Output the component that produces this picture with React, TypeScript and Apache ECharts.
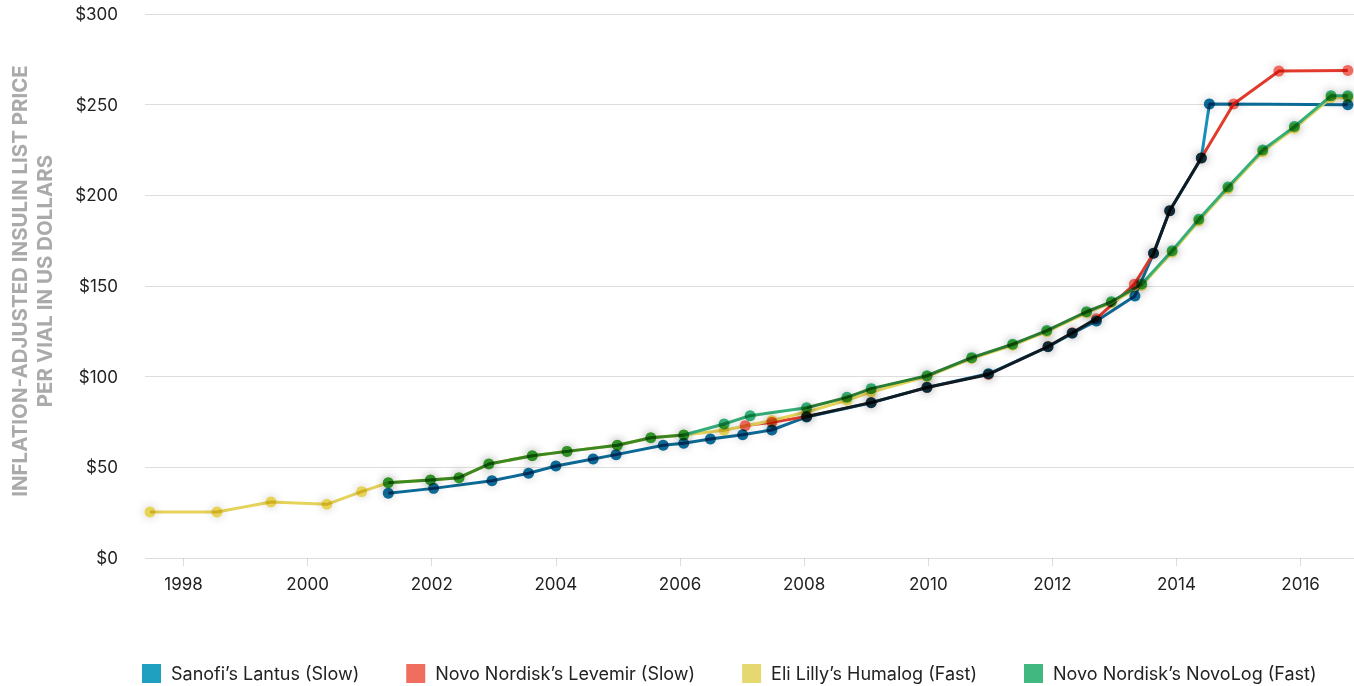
import React, { useEffect, useRef } from "react";
import * as echarts from "echarts";

const seriesNames = [
  "Sanofi’s Lantus (Slow)",
  "Novo Nordisk’s Levemir (Slow)",
  "Eli Lilly’s Humalog (Fast)",
  "Novo Nordisk’s NovoLog (Fast)",
];

const lantusYears = [2001.3, 2002.03, 2002.97, 2003.56, 2004.0, 2004.6, 2004.97, 2005.73, 2006.06, 2006.49, 2007.01, 2007.48, 2008.04, 2009.08, 2009.98, 2010.97, 2011.93, 2012.32, 2012.71, 2013.33, 2013.63, 2013.89, 2014.4, 2014.53, 2016.76];
const lantusPrices = [35.7, 38.4, 42.6, 46.7, 50.7, 54.6, 57.0, 62.2, 63.3, 65.6, 68.0, 70.6, 77.8, 85.6, 94.1, 101.6, 116.5, 123.9, 130.7, 144.5, 168.0, 191.5, 220.6, 250.4, 250.0];

const levemirYears = [2007.05, 2007.48, 2008.04, 2009.08, 2009.98, 2010.97, 2011.93, 2012.32, 2012.71, 2013.32, 2013.63, 2013.89, 2014.4, 2014.92, 2015.65, 2016.76];
const levemirPrices = [73.0, 74.8, 78.0, 85.7, 94.0, 101.2, 116.6, 124.2, 132.0, 150.9, 168.0, 191.5, 220.6, 250.4, 268.5, 268.8];

const humalogYears = [1997.46, 1998.54, 1999.41, 2000.31, 2000.87, 2001.3, 2001.98, 2002.44, 2002.92, 2003.62, 2004.18, 2004.99, 2005.53, 2006.06, 2006.71, 2007.48, 2008.04, 2008.69, 2009.08, 2009.98, 2010.7, 2011.36, 2011.91, 2012.55, 2012.95, 2013.44, 2013.93, 2014.36, 2014.83, 2015.39, 2015.9, 2016.49, 2016.76];
const humalogPrices = [25.4, 25.4, 30.9, 29.6, 36.6, 41.5, 43.0, 44.3, 51.8, 56.4, 58.8, 62.2, 66.3, 67.8, 70.5, 75.8, 80.5, 87.0, 91.5, 100.0, 110.0, 117.3, 124.8, 135.2, 140.7, 150.3, 168.6, 185.8, 203.6, 224.0, 237.0, 253.8, 253.8];

const novologYears = [2001.3, 2001.98, 2002.44, 2002.92, 2003.62, 2004.18, 2004.99, 2005.53, 2006.06, 2006.71, 2007.13, 2008.04, 2008.69, 2009.08, 2009.98, 2010.7, 2011.36, 2011.91, 2012.55, 2012.95, 2013.44, 2013.93, 2014.36, 2014.83, 2015.39, 2015.9, 2016.49, 2016.76];
const novologPrices = [41.5, 43.0, 44.3, 51.8, 56.4, 58.8, 62.2, 66.3, 67.8, 73.9, 78.5, 82.9, 88.6, 93.4, 100.5, 110.5, 117.9, 125.4, 135.8, 141.3, 151.1, 169.5, 186.8, 204.6, 225.0, 237.9, 254.9, 254.9];

const yearTicks = [1998, 2000, 2002, 2004, 2006, 2008, 2010, 2012, 2014, 2016];

// Where two lines run together, the top line takes the mixed (darker) colour.
const levemirOverlap: [number, number, string][] = [
  [2008.04, 2012.71, "#111b22"],
  [2013.63, 2014.4, "#111b22"],
];
const novologOverlap: [number, number, string][] = [
  [2001.3, 2006.06, "#3b8a22"],
  [2008.04, 2013.44, "#2b7e34"],
];
const lantusOverlap: [number, number, string][] = [[2014.4, 2014.53, "#1a8fba"]];

const legendColors = ["#1fa0c0", "#f06e60", "#e6d870", "#40b880"];
const lineColors = ["#0b6a96", "#e23a2c", "#e6d35a", "#35b07a"];
const dotColors = ["#0b6a96", "#f06a5e", "#e6d35a", "#35b07a"];

const FONT = "Inter, Roboto, sans-serif";
const X_MIN = 1997.38;
const X_MAX = 2016.86;

const pair = (xs: number[], ys: number[]) => xs.map((x, i) => [x, ys[i]]);

const segmentedColor = (base: string, ranges: [number, number, string][]) => {
  if (!ranges.length) return base;
  const f = (y: number) => Math.min(1, Math.max(0, (y - X_MIN) / (X_MAX - X_MIN)));
  const stops: { offset: number; color: string }[] = [{ offset: 0, color: base }];
  ranges.forEach(([a, b, c]) => {
    stops.push({ offset: f(a), color: base });
    stops.push({ offset: f(a), color: c });
    stops.push({ offset: f(b), color: c });
    stops.push({ offset: f(b), color: base });
  });
  stops.push({ offset: 1, color: base });
  return new echarts.graphic.LinearGradient(0, 0, 1, 0, stops, false);
};

export default function App() {
  const ref = useRef<HTMLDivElement>(null);
  useEffect(() => {
    if (!ref.current) return;
    const chart = echarts.init(ref.current, undefined, { renderer: "svg" });
    const datasets = [
      pair(lantusYears, lantusPrices),
      pair(levemirYears, levemirPrices),
      pair(humalogYears, humalogPrices),
      pair(novologYears, novologPrices),
    ];
    const overlaps = [lantusOverlap, levemirOverlap, [], novologOverlap] as [number, number, string][][];
    chart.setOption({
      animation: false,
      backgroundColor: "#ffffff",
      grid: { left: 145, right: 0, top: 14, bottom: 128, containLabel: false },
      xAxis: {
        type: "value",
        min: X_MIN,
        max: X_MAX,
        axisLine: { show: false },
        splitLine: { show: false },
        axisTick: {
          show: true,
          customValues: yearTicks,
          length: 8,
          lineStyle: { color: "#dddddd", width: 1 },
        },
        axisLabel: {
          customValues: yearTicks,
          formatter: (v: number) => String(Math.round(v)),
          color: "#222222",
          fontSize: 17,
          fontFamily: FONT,
          margin: 17,
        },
      },
      yAxis: {
        type: "value",
        min: 0,
        max: 300,
        interval: 50,
        axisLine: { show: false },
        axisTick: { show: false },
        splitLine: { lineStyle: { color: "#dddddd", width: 1.2 } },
        axisLabel: {
          formatter: (v: number) => "$" + v,
          color: "#222222",
          fontSize: 17,
          fontFamily: FONT,
          margin: 27,
        },
      },
      legend: {
        left: 142,
        top: 664,
        padding: 0,
        itemWidth: 19,
        itemHeight: 19,
        itemGap: 47,
        icon: "rect",
        textStyle: {
          color: "#222222",
          fontSize: 18,
          fontFamily: FONT,
          padding: [0, 0, 0, 5],
        },
        data: seriesNames.map((n, i) => ({
          name: n,
          itemStyle: { color: legendColors[i] },
        })),
      },
      graphic: [
        {
          type: "text",
          x: 32,
          y: 281,
          rotation: Math.PI / 2,
          style: {
            text: "INFLATION-ADJUSTED INSULIN LIST PRICE\nPER VIAL IN US DOLLARS",
            align: "center",
            verticalAlign: "middle",
            font: "bold 20.5px Inter, Roboto, sans-serif",
            fill: "#aaaaaa",
            lineHeight: 25,
          },
        },
      ],
      series: datasets.map((d, i) => ({
        name: seriesNames[i],
        type: "line",
        data: d,
        clip: false,
        symbol: "circle",
        symbolSize: 11,
        showSymbol: true,
        lineStyle: { color: lineColors[i], width: 3 },
        itemStyle: {
          color: dotColors[i],
          shadowBlur: 10,
          shadowColor: "rgba(0,0,0,0.2)",
        },
        emphasis: { disabled: true },
        z: 2,
      })),
    });
    // Global gradient along x, using the grid's pixel extent.
    const x0 = chart.convertToPixel({ xAxisIndex: 0 }, X_MIN) as number;
    const x1 = chart.convertToPixel({ xAxisIndex: 0 }, X_MAX) as number;
    chart.setOption({
      series: overlaps.map((ranges, i) => {
        const g: any = segmentedColor(lineColors[i], ranges);
        if (typeof g !== "string") {
          g.x = x0;
          g.x2 = x1;
          g.y = 0;
          g.y2 = 0;
          g.global = true;
        }
        return { lineStyle: { color: g } };
      }),
    });
    return () => chart.dispose();
  }, []);
  return (
    <>
      <style>{`.chartbox svg path { mix-blend-mode: multiply; }`}</style>
      <div
        ref={ref}
        className="chartbox"
        style={{ position: "fixed", left: 0, top: 0, width: 1354, height: 686 }}
      />
    </>
  );
}
